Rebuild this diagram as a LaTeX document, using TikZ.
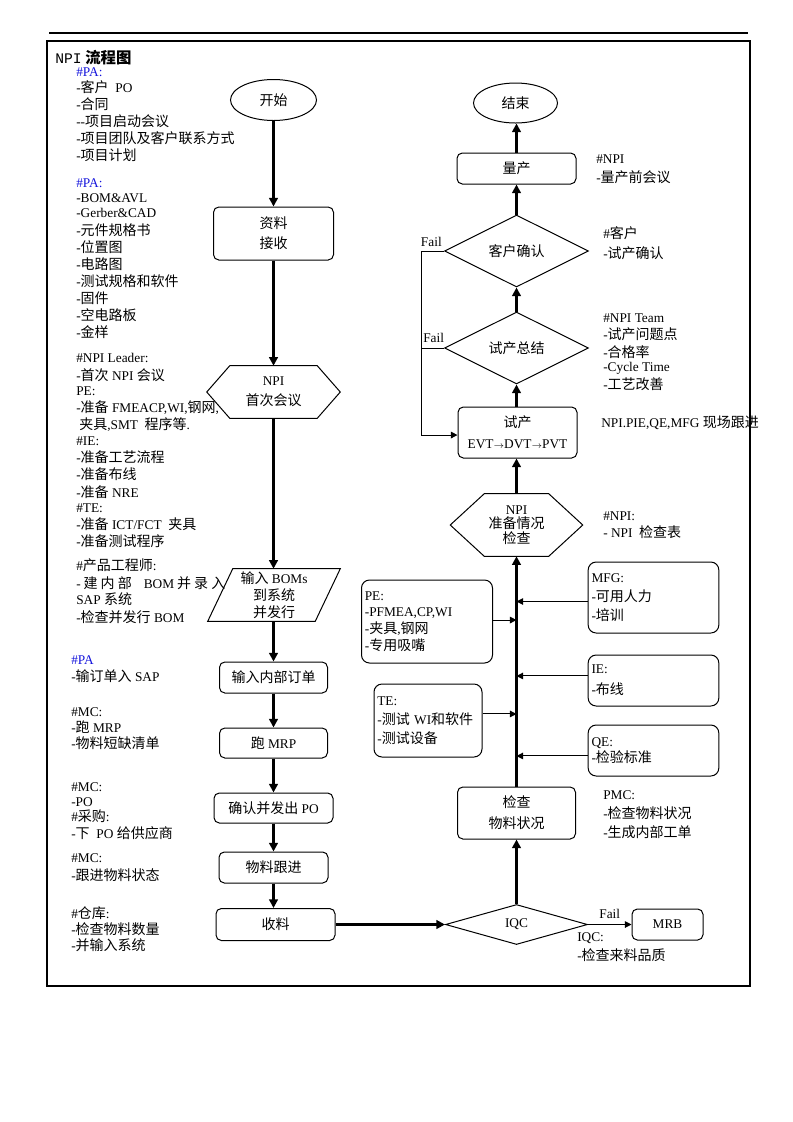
\documentclass[tikz,border=0pt]{standalone}
\usepackage{fontspec}
\setmainfont{Liberation Serif}
\newfontfamily\cjkfont{Noto Sans CJK SC}[Scale=1.05]
\newfontfamily\monofnt{Liberation Mono}
\usetikzlibrary{shapes.geometric,arrows.meta}
\definecolor{pablue}{RGB}{20,20,220}
\newcommand\pa[1]{\textcolor{pablue}{#1}}
\XeTeXinterchartokenstate=1
\newXeTeXintercharclass\CJKcls
\makeatletter
\count@="4E00
\loop\ifnum\count@<"A000 \XeTeXcharclass\count@=\CJKcls \advance\count@ 1 \repeat
\count@="3000
\loop\ifnum\count@<"3040 \XeTeXcharclass\count@=\CJKcls \advance\count@ 1 \repeat
\count@="FF00
\loop\ifnum\count@<"FF60 \XeTeXcharclass\count@=\CJKcls \advance\count@ 1 \repeat
\makeatother
\XeTeXinterchartoks 0 \CJKcls = {\cjkfont}
\XeTeXinterchartoks 4095 \CJKcls = {\cjkfont}
\XeTeXinterchartoks \CJKcls 0 = {\rmfamily}
\XeTeXinterchartoks \CJKcls 4095 = {\rmfamily}
\begin{document}
\begin{tikzpicture}[x=0.75pt,y=-0.75pt,
  every node/.style={font=\fontsize{10}{12}\selectfont},
  note/.style={anchor=west, inner sep=0pt},
  proc/.style={draw, rounded corners=4pt, line width=0.75pt, inner sep=0pt, align=center},
  term/.style={draw, ellipse, line width=0.75pt, inner sep=0pt},
  dec/.style={draw, diamond, line width=0.75pt, inner sep=0pt},
  shapebox/.style={inner sep=0pt, align=center},
  outline/.style={line width=0.75pt},
  side/.style={draw, rounded corners=6pt, line width=0.75pt, inner xsep=2.5pt, inner ysep=0pt, align=left},
  mainarrow/.style={line width=2.25pt, -{Triangle[length=6.5pt,width=6.5pt]}},
  feed/.style={line width=0.75pt, -{Triangle[length=5pt,width=5pt]}},
  lbl/.style={inner sep=0pt}]
\useasboundingbox (0,0) rectangle (793,1122);
% frame
\draw[line width=0.9pt] (49,33) -- (748,33);
\draw[line width=1.1pt] (47,41) rectangle (750,986);
\node[note, font=\fontsize{11}{13}\selectfont] (title) at (55,58) {{\monofnt NPI} {\bfseries 流程图}};
% left notes
\foreach \xx/\yy/\txt [count=\i] in {
  76/72/{\pa{\#PA:}}, 76/87/{-客户\ \ PO}, 76/104/{-合同}, 76/121/{-{}-项目启动会议},
  76/138/{-项目团队及客户联系方式}, 76/155/{-项目计划},
  76/183/{\pa{\#PA:}}, 76/198/{-BOM\&AVL}, 76/213/{-Gerber\&CAD}, 76/230/{-元件规格书},
  76/247/{-位置图}, 76/264/{-电路图}, 76/281/{-测试规格和软件}, 76/298/{-固件},
  76/315/{-空电路板}, 76/332/{-金样},
  76/358/{\#NPI Leader:}, 76/375/{-首次 NPI 会议}, 76/391/{PE:},
  76/408/{-准备 FMEACP,WI,钢网,}, 79/425/{夹具,SMT\ \ 程序等.}, 76/441/{\#IE:},
  76/457/{-准备工艺流程}, 76/474/{-准备布线}, 76/492/{-准备 NRE}, 76/508/{\#TE:},
  76/524/{-准备 ICT/FCT\ \ 夹具}, 76/541/{-准备测试程序},
  76/565/{\#产品工程师:}, 76/583/{\makebox[111.75pt][s]{-\ 建\ 内\ 部\ \ \ \ BOM\ 并\ 录\ 入}},
  76/599/{SAP 系统}, 76/617/{-检查并发行 BOM},
  71/660/{\pa{\#PA}}, 71/676/{-输订单入 SAP}, 71/712/{\#MC:}, 71/727/{-跑 MRP},
  71/743/{-物料短缺清单}, 71/787/{\#MC:}, 71/802/{-PO}, 71/816/{\#采购:},
  71/833/{-下\ \ PO 给供应商}, 71/858/{\#MC:}, 71/875/{-跟进物料状态},
  71/913/{\#仓库:}, 71/929/{-检查物料数量}, 71/945/{-并输入系统}}
  {\node[note] (L\i) at (\xx,\yy) {\txt};}
% right notes
\foreach \xx/\yy/\txt [count=\i] in {
  596/159/{\#NPI}, 596/177/{-量产前会议}, 603/233/{\#客户}, 603/253/{-试产确认},
  603/318/{\#NPI Team}, 603/334/{-试产问题点}, 603/352/{-合格率}, 603/368/{-Cycle Time},
  603/384/{-工艺改善}, 601/423/{NPI.PIE,QE,MFG 现场跟进}, 603/516/{\#NPI:},
  603/532/{- NPI\ \ 检查表}, 603/795/{PMC:}, 603/813/{-检查物料状况}, 603/832/{-生成内部工单},
  577/938/{IQC:}, 577/955/{-检查来料品质}}
  {\node[note] (R\i) at (\xx,\yy) {\txt};}
% left flow
\node[term, minimum width=64.5pt, minimum height=30.75pt] (start) at (273.5,100) {开始};
\node[proc, minimum width=90pt, minimum height=39.75pt, font=\fontsize{10}{15}\selectfont] (zl) at (273.5,233.5) {资料\\接收};
\node[shapebox, minimum width=99.75pt, minimum height=39pt, font=\fontsize{10}{15}\selectfont] (hx1) at (273.5,392) {NPI\\首次会议};
\draw[outline] (hx1.west) -- ([xshift=17.25pt]hx1.north west) -- ([xshift=-17.25pt]hx1.north east) -- (hx1.east) -- ([xshift=-17.25pt]hx1.south east) -- ([xshift=17.25pt]hx1.south west) -- cycle;
\node[shapebox, minimum width=99pt, minimum height=39pt, font=\fontsize{10}{12.75}\selectfont] (bom) at (274,595) {输入 BOMs\\到系统\\并发行};
\draw[outline] ([xshift=18.75pt]bom.north west) -- (bom.north east) -- ([xshift=-18.75pt]bom.south east) -- (bom.south west) -- cycle;
\node[proc, minimum width=81pt, minimum height=23.25pt] (dd) at (273.5,677.5) {输入内部订单};
\node[proc, minimum width=81pt, minimum height=22.5pt] (mrp) at (273.5,743) {跑 MRP};
\node[proc, minimum width=89.25pt, minimum height=22.5pt] (po) at (273.5,808) {确认并发出 PO};
\node[proc, minimum width=81.75pt, minimum height=23.25pt] (gj) at (273.5,867.5) {物料跟进};
\node[proc, minimum width=89.25pt, minimum height=24pt] (sl) at (275.5,924.5) {收料};
\draw[mainarrow] (start.south) -- (start.south |- zl.north);
\draw[mainarrow] (zl.south) -- (zl.south |- hx1.north);
\draw[mainarrow] (hx1.south) -- (hx1.south |- bom.north);
\draw[mainarrow] (hx1.south |- bom.south) -- (hx1.south |- dd.north);
\draw[mainarrow] (dd.south) -- (mrp.north);
\draw[mainarrow] (mrp.south) -- (po.north);
\draw[mainarrow] (po.south) -- (gj.north);
\draw[mainarrow] (gj.south) -- (gj.south |- sl.north);
% right flow
\node[dec, minimum width=106.5pt, minimum height=30pt] (iqc) at (516.5,924.5) {IQC};
\node[proc, minimum width=53.25pt, minimum height=23.25pt] (mrb) at (667.5,924.5) {MRB};
\node[proc, minimum width=88.5pt, minimum height=39pt, font=\fontsize{10}{15.75}\selectfont] (jc) at (516.5,813) {检查\\物料状况};
\node[shapebox, minimum width=99pt, minimum height=46.5pt, font=\fontsize{10}{11}\selectfont] (hx2) at (516.5,525) {NPI\\准备情况\\检查};
\draw[outline] (hx2.west) -- ([xshift=25.5pt]hx2.north west) -- ([xshift=-25.5pt]hx2.north east) -- (hx2.east) -- ([xshift=-25.5pt]hx2.south east) -- ([xshift=25.5pt]hx2.south west) -- cycle;
\node[proc, minimum width=89.25pt, minimum height=38.25pt, font=\fontsize{10}{15.75}\selectfont] (sc) at (517.5,432.5) {试产\\EVT{\scriptsize$\rightarrow$}DVT{\scriptsize$\rightarrow$}PVT};
\node[dec, minimum width=108pt, minimum height=54pt] (zj) at (516.5,348) {试产总结};
\node[dec, minimum width=108pt, minimum height=54pt] (kh) at (516.5,251) {客户确认};
\node[proc, minimum width=89.25pt, minimum height=23.25pt] (lc) at (516.5,168.5) {量产};
\node[term, minimum width=63pt, minimum height=30pt] (end) at (515.5,103) {结束};
\draw[mainarrow] (sl.east) -- (iqc.west);
\draw[feed] (iqc.east) -- node[above=4pt, lbl] (f3) {Fail} (mrb.west);
\draw[mainarrow] (iqc.north) -- (jc.south);
\draw[mainarrow] (jc.north) -- (hx2.south);
\draw[mainarrow] (hx2.north) -- (hx2.north |- sc.south);
\draw[mainarrow] (hx2.north |- sc.north) -- (zj.south);
\draw[mainarrow] (zj.north) -- (kh.south);
\draw[mainarrow] (kh.north) -- (lc.south);
\draw[mainarrow] (lc.north) -- (lc.north |- end.south);
% fail loop
\coordinate (fx) at (421,300);
\draw[line width=0.75pt] (zj.west) -- node[above=4pt, lbl, pos=0.45] (f2) {Fail} (zj.west -| fx);
\draw[feed] (kh.west) -- node[above=3pt, lbl, pos=0.55] (f1) {Fail} (kh.west -| fx) |- ([yshift=-1.9pt]sc.west);
% side boxes
\node[side, text width=93.25pt, minimum height=62.25pt, font=\fontsize{10}{12.5}\selectfont] (pe) at (427,621.5) {PE:\\-PFMEA,CP,WI\\-夹具,钢网\\-专用吸嘴};
\node[side, text width=76pt, minimum height=54.75pt, font=\fontsize{10}{14.25}\selectfont] (te) at (428,720.5) {TE:\\-测试 WI和软件\\-测试设备};
\node[side, text width=93pt, minimum height=53.25pt, font=\fontsize{10}{14.5}\selectfont] (mfg) at (653.5,597.5) {MFG:\\-可用人力\\-培训};
\node[side, text width=93pt, minimum height=38.25pt, font=\fontsize{10}{15.5}\selectfont] (ie) at (653.5,680.5) {IE:\\-布线};
\node[side, text width=93pt, minimum height=38.25pt, font=\fontsize{10}{12.5}\selectfont] (qe) at (653.5,750.5) {QE:\\-检验标准};
\draw[feed] ([yshift=1.1pt]pe.east) -- ([yshift=1.1pt]pe.east -| jc.north);
\draw[feed] ([yshift=4.9pt]te.east) -- ([yshift=4.9pt]te.east -| jc.north);
\draw[feed] ([yshift=-3pt]mfg.west) -- ([yshift=-3pt]mfg.west -| jc.north);
\draw[feed] ([yshift=3.4pt]ie.west) -- ([yshift=3.4pt]ie.west -| jc.north);
\draw[feed] ([yshift=-4.1pt]qe.west) -- ([yshift=-4.1pt]qe.west -| jc.north);
\end{tikzpicture}
\end{document}
